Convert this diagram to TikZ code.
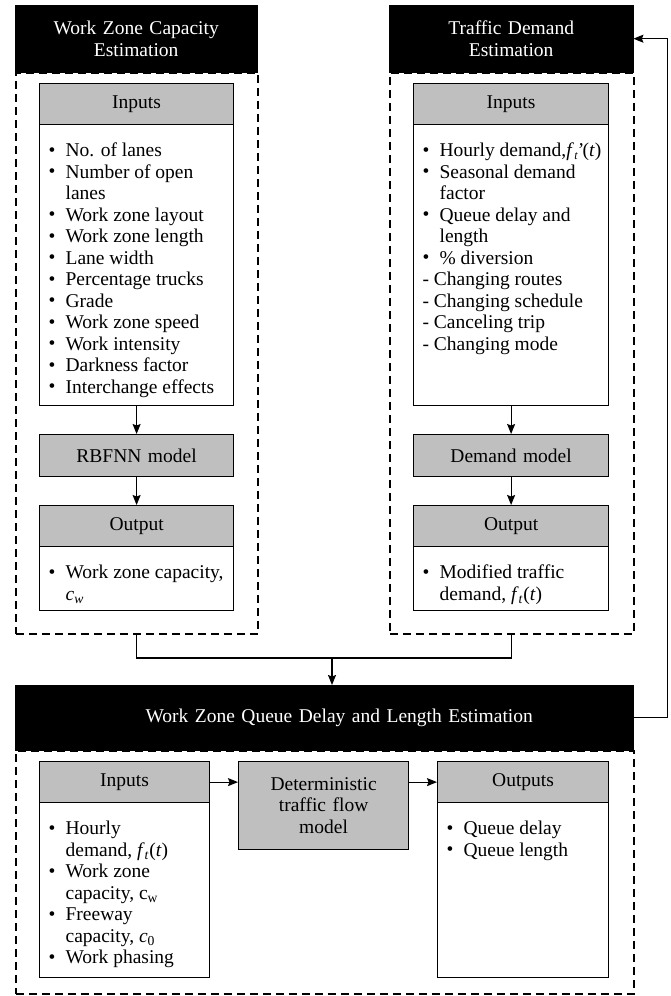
\documentclass[tikz,border=0pt]{standalone}
\usepackage{fontspec}
\setmainfont{Liberation Serif}
\usetikzlibrary{arrows.meta, calc}

% bullet and dash lines for the list boxes
\newcommand{\nextline}{\hfil\break}
\newcommand{\bitem}[1]{\par\noindent\hangindent=17pt\hangafter=1\strut\makebox[17pt][l]{\raisebox{0.5pt}{\textbullet}}#1}
\newcommand{\ditem}[1]{\par\noindent\strut- #1}
\newcommand{\listtext}[3]{\parbox[c][#1][t]{#2}{\raggedright\leftskip=9pt\vspace*{17pt}#3}}

\tikzset{
  headbox/.style={draw=black, fill=black, text=white, align=center, anchor=north west, inner sep=0pt},
  greybox/.style={draw=black, line width=1.2pt, fill=black!25, align=center, anchor=north west, inner sep=0pt},
  listbox/.style={draw=black, line width=1.2pt, fill=white, anchor=north west, inner sep=0pt},
  panel/.style={draw=black, line width=1.5pt, dash pattern=on 8pt off 5pt, anchor=north west, inner sep=0pt},
  flow/.style={-{Stealth[length=10pt,width=8pt,inset=1.5pt]}, line width=1.1pt},
}

\begin{document}
\begin{tikzpicture}[x=1pt, y=-1pt, font=\fontsize{19.5}{21.5}\selectfont]
\useasboundingbox[fill=white] (0,0) rectangle (670,996);

% capacity estimation
\node[panel, minimum width=242pt, minimum height=561pt] (capPanel) at (15,72) {};
\node[headbox, text width=242pt, minimum height=67pt] (capHead) at (15,5) {Work Zone Capacity\\Estimation};
\node[greybox, text width=194pt, minimum height=41pt] (capIn) at (39,83) {Inputs};
\node[listbox] (capInList) at (39,124) {\listtext{281pt}{194pt}{%
  \bitem{No. of lanes}
  \bitem{Number of open\nextline lanes}
  \bitem{Work zone layout}
  \bitem{Work zone length}
  \bitem{Lane width}
  \bitem{Percentage trucks}
  \bitem{Grade}
  \bitem{Work zone speed}
  \bitem{Work intensity}
  \bitem{Darkness factor}
  \bitem{Interchange effects}}};
\node[greybox, text width=194pt, minimum height=42pt] (rbfnn) at (39,434) {RBFNN model};
\node[greybox, text width=194pt, minimum height=41pt] (capOut) at (39,505) {Output};
\node[listbox] (capOutList) at (39,546) {\listtext{64pt}{194pt}{%
  \bitem{Work zone capacity,\nextline\textit{c}\textsubscript{\textit{w}}}}};

% demand estimation
\node[panel, minimum width=244pt, minimum height=561pt] (demPanel) at (389,72) {};
\node[headbox, text width=244pt, minimum height=67pt] (demHead) at (389,5) {Traffic Demand\\Estimation};
\node[greybox, text width=195pt, minimum height=41pt] (demIn) at (413,83) {Inputs};
\node[listbox] (demInList) at (413,124) {\listtext{281pt}{195pt}{%
  \bitem{Hourly demand,\textit{f}\kern0.5pt\raisebox{-3pt}{\fontsize{12}{12}\selectfont\textit{t}}\kern-1.5pt\textit{'}\kern-0.5pt(\textit{t})}
  \bitem{Seasonal demand\nextline factor}
  \bitem{Queue delay and\nextline length}
  \bitem{\% diversion}
  \ditem{Changing routes}
  \ditem{Changing schedule}
  \ditem{Canceling trip}
  \ditem{Changing mode}}};
\node[greybox, text width=195pt, minimum height=42pt] (demModel) at (413,434) {Demand model};
\node[greybox, text width=195pt, minimum height=41pt] (demOut) at (413,505) {Output};
\node[listbox] (demOutList) at (413,546) {\listtext{64pt}{195pt}{%
  \bitem{Modified traffic\nextline demand, \textit{f}\textsubscript{\textit{t}}(\textit{t})}}};

\draw[flow] (capInList) -- (rbfnn);
\draw[flow] (rbfnn) -- (capOut);
\draw[flow] (demInList) -- (demModel);
\draw[flow] (demModel) -- (demOut);

% queue delay and length estimation
\node[panel, minimum width=618pt, minimum height=243pt] (qPanel) at (15,750) {};
\node[headbox, text width=618pt, minimum height=65pt] (qHead) at (15,685) {\hspace*{30pt}Work Zone Queue Delay and Length Estimation};
\node[greybox, text width=170pt, minimum height=41pt] (qIn) at (39,761) {Inputs};
\node[listbox] (qInList) at (39,802) {\listtext{175pt}{170pt}{%
  \bitem{Hourly\nextline demand, \textit{f}\textsubscript{\textit{t}}(\textit{t})}
  \bitem{Work zone\nextline capacity, c\textsubscript{w}}
  \bitem{Freeway\nextline capacity, \textit{c}\textsubscript{0}}
  \bitem{Work phasing}}};
\node[greybox, text width=170pt, minimum height=88pt] (detModel) at (238,761) {Deterministic\\traffic flow\\model};
\node[greybox, text width=171pt, minimum height=41pt] (qOut) at (437,761) {Outputs};
\node[listbox] (qOutList) at (437,802) {\listtext{175pt}{171pt}{%
  \bitem{Queue delay}
  \bitem{Queue length}}};

\draw[flow] (qIn.east) -- (qIn.east -| detModel.west);
\draw[flow] (detModel.east |- qOut.west) -- (qOut.west);

% links between the panels
\coordinate (join) at (332,658);
\draw[line width=1.1pt] (capPanel.south) |- (join) -| (demPanel.south);
\draw[flow] (join) -- (join |- qHead.north);
\draw[flow] (qHead.east) -- ++(34,0) |- (demHead.east);
\end{tikzpicture}
\end{document}
